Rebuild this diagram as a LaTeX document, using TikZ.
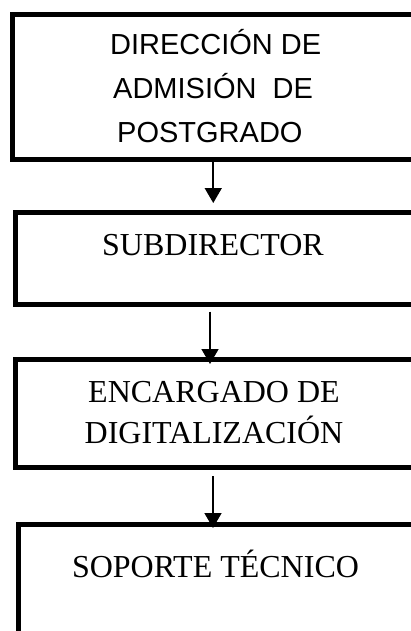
\documentclass[tikz,border=0pt]{standalone}
\usepackage{fontspec}
\setmainfont{Liberation Serif}
\newfontfamily\headfont{Liberation Sans}
\usetikzlibrary{arrows.meta,positioning}

\begin{document}
\begin{tikzpicture}[
    x=1pt, y=-1pt,
    box/.style={draw, line width=5pt, anchor=north west, inner sep=0pt},
    txt/.style={font=\fontsize{32}{41}\selectfont, align=center, inner sep=0pt, anchor=base},
    headtxt/.style={font=\headfont\fontsize{29}{44}\selectfont, align=left, inner sep=0pt, anchor=base west},
    flow/.style={-{Triangle[length=15pt,width=17pt]}, line width=1.6pt}
]
\useasboundingbox (0,0) rectangle (411,631);

% boxes
\node[box, minimum width=403.5pt, minimum height=145pt] (dir) at (10,12) {};
\node[box, minimum width=398pt, minimum height=92.5pt] (sub) at (12.5,209.5) {};
\node[box, minimum width=400.5pt, minimum height=108pt] (enc) at (13,357) {};
\node[box, minimum width=398pt, minimum height=175pt] (sop) at (15.5,522) {};

% texts (base = last line)
\node[headtxt] (dirtxt) at (110,143) {DIRECCIÓN DE\\\hspace*{3pt}ADMISIÓN\ \ DE\\\hspace*{7pt}POSTGRADO};
\node[txt] (subtxt) at (213,255) {SUBDIRECTOR};
\node[txt] (enctxt) at (214,443) {ENCARGADO DE\\DIGITALIZACIÓN};
\node[txt] (soptxt) at (215.5,577) {SOPORTE TÉCNICO};

% arrows
\draw[flow, shorten >=6.5pt] ([xshift=-1pt]dir.south) -- ([xshift=-1pt]dir.south |- sub.north);
\draw[flow, shorten <=4.7pt, shorten >=-7pt] ([xshift=-4pt]sub.south) -- ([xshift=-4pt]sub.south |- enc.north);
\draw[flow, shorten <=6pt, shorten >=-6pt] ([xshift=-2.75pt]enc.south) -- ([xshift=-2.75pt]enc.south |- sop.north);
\end{tikzpicture}
\end{document}
